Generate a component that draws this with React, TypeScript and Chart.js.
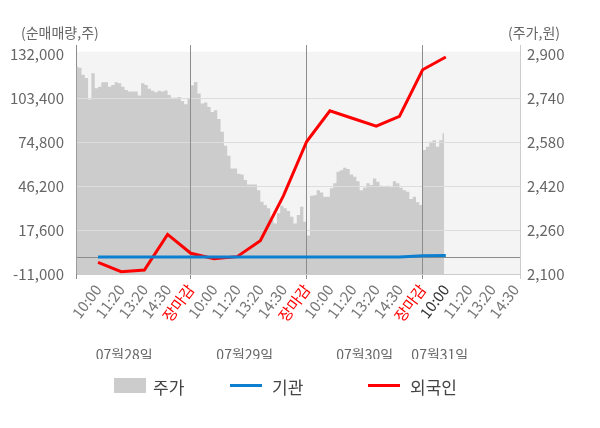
import React, { useEffect, useRef } from 'react';
import { Chart, registerables } from 'chart.js';

Chart.register(...registerables);

// x-axis slot labels (one per slot, positions 1..19)
const slotLabels = [
  '10:00', '11:20', '13:20', '14:30', '장마감',
  '10:00', '11:20', '13:20', '14:30', '장마감',
  '10:00', '11:20', '13:20', '14:30', '장마감',
  '10:00', '11:20', '13:20', '14:30',
];
const currentSlot = 16;
const dayLabels = ['07월28일', '07월29일', '07월30일', '07월31일'];

// 순매매량 (주) at slots 1..16
const foreignNet = [-3400, -9500, -8400, 14800, 2500, -1000, 300, 10700, 40000, 75200, 95200, 90200, 85200, 91600, 121900, 130200];
const institutionNet = [0, 0, 0, 0, 0, 0, 0, 0, 0, 0, 0, 0, 0, 100, 900, 1000];

// 주가 (원), intraday samples per day
const day1Price = [2855, 2851, 2825, 2813, 2735, 2831, 2776, 2782, 2798, 2798, 2782, 2788, 2798, 2794, 2782, 2770, 2764, 2764, 2764, 2750, 2794, 2788, 2774, 2767, 2762, 2767, 2764, 2768, 2752, 2742, 2742, 2744, 2730, 2718, 2740];
const day2Price = [2787, 2799, 2757, 2721, 2724, 2708, 2690, 2696, 2664, 2618, 2567, 2530, 2484, 2484, 2465, 2462, 2442, 2426, 2426, 2426, 2405, 2363, 2351, 2339, 2296, 2284, 2321, 2348, 2339, 2329, 2308, 2284, 2315, 2345, 2290];
const day3Price = [2240, 2385, 2387, 2405, 2397, 2381, 2381, 2412, 2430, 2472, 2478, 2487, 2482, 2462, 2454, 2438, 2405, 2414, 2430, 2424, 2448, 2436, 2421, 2418, 2421, 2416, 2438, 2430, 2414, 2405, 2399, 2373, 2381, 2361, 2351];
const day4Price = [2551, 2563, 2581, 2587, 2563, 2587, 2612];

const leftTicks = [-11000, 0, 17600, 46200, 74800, 103400, 132000];
const rightTicks = [2100, 2260, 2420, 2580, 2740, 2900];

const seriesNames = ['주가', '기관', '외국인'];
const seriesColors = ['#cccccc', '#0c7fd1', '#ff0000'];

const FONT = "'Noto Sans CJK KR', 'Noto Sans', sans-serif";

export default function App() {
  const ref = useRef<HTMLCanvasElement>(null);

  useEffect(() => {
    document.body.style.margin = '0';
    if (!ref.current) return;

    const samplesPerDay = day1Price.length;
    const step = 5 / samplesPerDay;
    const priceData = [day1Price, day2Price, day3Price, day4Price].flatMap((arr, d) =>
      arr.map((v, i) => ({ x: d * 5 + (i + 0.5) * step, y: v }))
    );
    const foreignData = foreignNet.map((v, i) => ({ x: i + 1, y: v }));
    const instData = institutionNet.map((v, i) => ({ x: i + 1, y: v }));

    const X_MIN = 0.05;
    const X_MAX = 19.2;
    const Y_MIN = -11000;
    const Y_MAX = 138000;
    const Y1_MIN = 2100;
    const Y1_MAX = 2100 + ((Y_MAX - Y_MIN) * 160) / 28600;
    const dayTickValues = [2.13, 7.33, 12.5, 15.74];
    const sepValues = [5, 10, 15];

    const plugin = {
      id: 'decor',
      beforeDraw(chart: any) {
        const { ctx, chartArea } = chart;
        const top = chart.scales.y.getPixelForValue(132000) - 2.5;
        ctx.save();
        ctx.fillStyle = '#f4f4f4';
        ctx.fillRect(chartArea.left, top, chartArea.right - chartArea.left, chartArea.bottom - top);
        ctx.restore();
      },
      afterDatasetDraw(chart: any, args: any) {
        if (args.index === 0) {
          chart.scales.y.drawGrid(chart.chartArea);
          chart.scales.x.drawGrid(chart.chartArea);
        }
      },
      afterDraw(chart: any) {
        const { ctx, chartArea } = chart;
        ctx.save();
        ctx.font = `14px ${FONT}`;
        ctx.fillStyle = '#666666';
        ctx.textBaseline = 'middle';
        ctx.textAlign = 'left';
        ctx.fillText('(순매매량,주)', chartArea.left - 55, 33);
        ctx.fillText('(주가,원)', chartArea.right - 12, 33);
        ctx.restore();
      },
    };

    const chart = new Chart(ref.current, {
      type: 'line',
      data: {
        datasets: [
          {
            label: seriesNames[0],
            data: priceData,
            yAxisID: 'y1',
            xAxisID: 'x',
            backgroundColor: seriesColors[0],
            borderColor: 'rgba(0,0,0,0)',
            borderWidth: 0,
            pointRadius: 0,
            stepped: 'middle',
            fill: 'start',
            order: 3,
          } as any,
          {
            label: seriesNames[1],
            data: instData,
            yAxisID: 'y',
            xAxisID: 'x',
            borderColor: seriesColors[1],
            borderWidth: 3,
            pointRadius: 0,
            tension: 0,
            fill: false,
            order: 1,
          },
          {
            label: seriesNames[2],
            data: foreignData,
            yAxisID: 'y',
            xAxisID: 'x',
            borderColor: seriesColors[2],
            borderWidth: 3,
            pointRadius: 0,
            tension: 0,
            fill: false,
            order: 2,
          },
        ],
      },
      options: {
        responsive: false,
        animation: false,
        events: [],
        layout: { padding: { top: 45, bottom: 69, left: 0, right: 0 } },
        plugins: { legend: { display: false }, tooltip: { enabled: false } },
        scales: {
          x: {
            type: 'linear',
            position: 'bottom',
            weight: 0,
            min: X_MIN,
            max: X_MAX,
            offset: false,
            bounds: 'data',
            afterBuildTicks: (s: any) => {
              s.ticks = [X_MIN, ...slotLabels.map((_, i) => i + 1), X_MAX].map((v) => ({ value: v }));
            },
            afterFit: (s: any) => {
              s.height = 63;
            },
            ticks: {
              autoSkip: false,
              minRotation: 53,
              maxRotation: 53,
              padding: 2,
              font: { family: FONT, size: 15 },
              color: (c: any) => {
                const v = c.tick ? c.tick.value : 0;
                const lab = slotLabels[v - 1];
                if (lab === '장마감') return '#ff0000';
                if (v === currentSlot) return '#333333';
                return '#777777';
              },
              callback: (v: any) => {
                const n = Number(v);
                return Number.isInteger(n) && n >= 1 && n <= slotLabels.length ? slotLabels[n - 1] : '';
              },
            },
            grid: {
              offset: false,
              drawOnChartArea: true,
              tickLength: 5,
              lineWidth: 1,
              color: (c: any) => (c.tick && sepValues.includes(c.tick.value) ? '#8c8c8c' : 'rgba(0,0,0,0)'),
              tickColor: (c: any) => {
                const v = c.tick ? c.tick.value : -1;
                if (sepValues.includes(v) || v === X_MIN) return '#8c8c8c';
                if (v === X_MAX) return '#cccccc';
                return 'rgba(0,0,0,0)';
              },
            },
            border: { display: true, color: '#cccccc' },
          } as any,
          x2: {
            type: 'linear',
            position: 'bottom',
            weight: 1,
            min: X_MIN,
            max: X_MAX,
            offset: false,
            bounds: 'data',
            afterBuildTicks: (s: any) => {
              s.ticks = dayTickValues.map((v) => ({ value: v }));
            },
            afterFit: (s: any) => {
              s.height = 22;
            },
            ticks: {
              autoSkip: false,
              minRotation: 0,
              maxRotation: 0,
              padding: 1,
              font: { family: FONT, size: 14 },
              color: '#666666',
              callback: (_v: any, i: number) => dayLabels[i],
            },
            grid: { display: false, offset: false },
            border: { display: false },
          } as any,
          y: {
            type: 'linear',
            position: 'left',
            min: Y_MIN,
            max: Y_MAX,
            bounds: 'data',
            beginAtZero: false,
            afterBuildTicks: (s: any) => {
              s.ticks = leftTicks.map((v) => ({ value: v }));
            },
            afterFit: (s: any) => {
              s.width = 76;
            },
            ticks: {
              padding: 12,
              font: { family: FONT, size: 15 },
              color: '#666666',
              callback: (v: any) => (Number(v) === 0 ? '' : Number(v).toLocaleString('en-US')),
            },
            grid: {
              drawTicks: false,
              color: (c: any) => {
                const v = c.tick ? c.tick.value : null;
                if (v === 0) return '#8c8c8c';
                if (v === 132000 || v === -11000) return 'rgba(0,0,0,0)';
                return '#dddddd';
              },
            },
            border: { display: true, color: '#8c8c8c' },
          } as any,
          y1: {
            type: 'linear',
            position: 'right',
            min: Y1_MIN,
            max: Y1_MAX,
            bounds: 'data',
            beginAtZero: false,
            afterBuildTicks: (s: any) => {
              s.ticks = rightTicks.map((v) => ({ value: v }));
            },
            afterFit: (s: any) => {
              s.width = 80;
            },
            ticks: {
              padding: 7,
              font: { family: FONT, size: 15 },
              color: '#666666',
              callback: (v: any) => Number(v).toLocaleString('en-US'),
            },
            grid: { drawOnChartArea: false, drawTicks: false },
            border: { display: true, color: '#cccccc' },
          } as any,
        },
      },
      plugins: [plugin],
    });

    return () => chart.destroy();
  }, []);

  const legendLayout = [
    { mark: 'box', markLeft: 114, textLeft: 153 },
    { mark: 'line', markLeft: 230, textLeft: 272 },
    { mark: 'line', markLeft: 368, textLeft: 410 },
  ];

  return (
    <div style={{ position: 'relative', width: 600, height: 428, fontFamily: FONT }}>
      <canvas ref={ref} width={600} height={428} style={{ display: 'block', width: 600, height: 428 }} />
      {seriesNames.map((name, i) => {
        const l = legendLayout[i];
        return (
          <React.Fragment key={name}>
            {l.mark === 'box' ? (
              <div style={{ position: 'absolute', left: l.markLeft, top: 378, width: 32, height: 15, background: seriesColors[i] }} />
            ) : (
              <div style={{ position: 'absolute', left: l.markLeft, top: 384, width: 32, height: 3, background: seriesColors[i] }} />
            )}
            <span
              style={{
                position: 'absolute',
                left: l.textLeft,
                top: 386,
                transform: 'translateY(-50%)',
                fontSize: 17,
                lineHeight: 1,
                color: '#444444',
                whiteSpace: 'nowrap',
              }}
            >
              {name}
            </span>
          </React.Fragment>
        );
      })}
    </div>
  );
}
